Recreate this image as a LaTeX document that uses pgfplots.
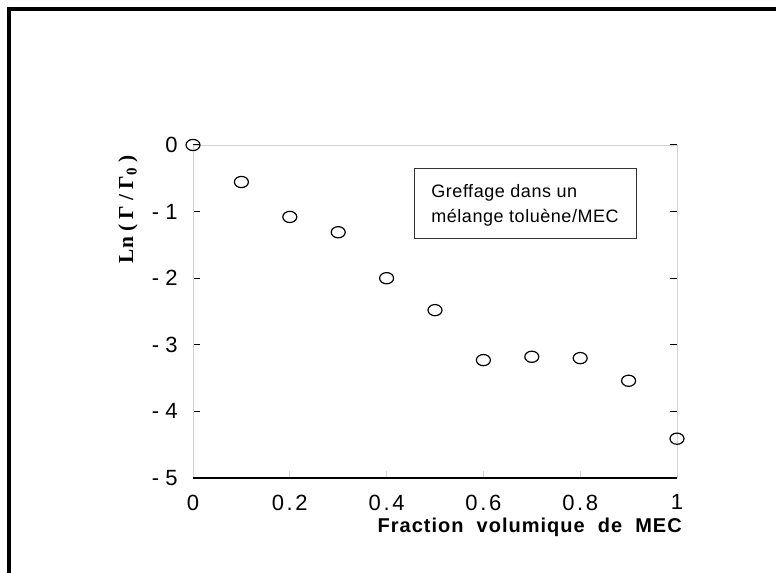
\documentclass[border=0pt]{standalone}
\usepackage{pgfplots}
\pgfplotsset{compat=1.18}
\usepackage{fontspec}
\setmainfont{Liberation Sans}
\newfontfamily\spaced[LetterSpace=12]{Liberation Sans}
\newfontfamily\spacedb[LetterSpace=5]{Liberation Sans}
\newfontfamily\legf[LetterSpace=3]{Liberation Sans}
\newfontfamily\serifb{Liberation Serif}
\begin{document}
\begin{tikzpicture}
\path[use as bounding box] (0,0) rectangle (582pt,429.75pt);
\draw[line width=2.4pt] (6.75pt,0) -- (6.75pt,423pt) -- (582pt,423pt);
\begin{axis}[
  at={(144.75pt,71.25pt)}, anchor=south west,
  scale only axis, width=363pt, height=249.75pt,
  xmin=0, xmax=1, ymin=-5, ymax=0,
  axis line style={draw=none},
  xtick={0,0.2,0.4,0.6,0.8,1},
  xticklabels={0,0.2,0.4,0.6,0.8,1},
  ytick={-5,-4,-3,-2,-1,0},
  yticklabels={- 5,- 4,- 3,- 2,- 1,0},
  tick align=inside,
  major tick length=5pt,
  xtick style={gray!35, line width=0.6pt},
  ytick style={black, line width=0.8pt},
  xtick pos=bottom,
  ytick pos=both,
  yticklabel style={font=\fontsize{16.5}{18}\selectfont, xshift=-8pt},
  xticklabel style={font=\fontsize{16.5}{18}\spaced, yshift=-9pt},
  clip=false,
]
\draw[gray!35, line width=0.7pt] (rel axis cs:0,0) -- (rel axis cs:0,1) -- (rel axis cs:1,1) -- (rel axis cs:1,0);
\draw[black, line width=0.9pt] (rel axis cs:0,0) -- (rel axis cs:1,0);
\addplot[only marks, mark=o, mark size=4.2pt, mark options={xscale=1.25, line width=0.9pt, black}] coordinates {
(0,0) (0.1,-0.556) (0.2,-1.08) (0.3,-1.31) (0.4,-2.0) (0.5,-2.48) (0.6,-3.23) (0.7,-3.18) (0.8,-3.2) (0.9,-3.54) (1.0,-4.41)
};
\draw[black!80, line width=0.6pt] (axis cs:0.4566,-0.345) rectangle (axis cs:0.917,-1.396);
\node[anchor=base west, font=\fontsize{13.5}{18}\legf, align=left, inner sep=0pt] at (axis cs:0.492,-0.79) {Greffage dans un};
\node[anchor=base west, font=\fontsize{13.5}{18}\legf, align=left, inner sep=0pt] at (axis cs:0.492,-1.17) {mélange toluène/MEC};
\end{axis}
\node[anchor=base east, inner sep=0pt, font=\fontsize{15}{17}\spacedb\bfseries] at (511.5pt,30pt) {Fraction\ \ volumique\ \ de\ \ MEC};
\node[rotate=90, inner sep=0pt, font=\fontsize{16}{18}\serifb\bfseries] at (96pt,273pt) {Ln ( Γ / Γ\textsubscript{0} )};
\end{tikzpicture}
\end{document}
